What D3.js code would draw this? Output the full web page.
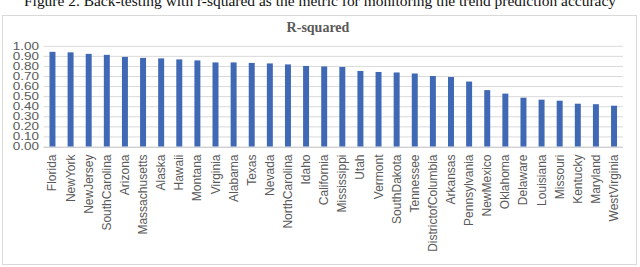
<!DOCTYPE html>
<html>
<head>
<meta charset="utf-8">
<script src="https://cdn.jsdelivr.net/npm/d3@7"></script>
<style>
  html, body { margin: 0; padding: 0; background: #fff; }
  svg { display: block; }
</style>
</head>
<body>
<svg id="chart" width="640" height="267"></svg>
<script>
// Data
const states = ['Florida', 'NewYork', 'NewJersey', 'SouthCarolina', 'Arizona', 'Massachusetts',
  'Alaska', 'Hawaii', 'Montana', 'Virginia', 'Alabama', 'Texas', 'Nevada', 'NorthCarolina',
  'Idaho', 'California', 'Mississippi', 'Utah', 'Vermont', 'SouthDakota', 'Tennessee',
  'DistrictofColumbia', 'Arkansas', 'Pennsylvania', 'NewMexico', 'Oklahoma', 'Delaware',
  'Louisiana', 'Missouri', 'Kentucky', 'Maryland', 'WestVirginia'];
const rSquared = [0.94, 0.935, 0.92, 0.91, 0.89, 0.88, 0.875, 0.865, 0.855, 0.835, 0.835,
  0.83, 0.825, 0.815, 0.80, 0.795, 0.79, 0.75, 0.74, 0.735, 0.725, 0.70, 0.69, 0.645,
  0.56, 0.525, 0.485, 0.465, 0.455, 0.425, 0.42, 0.405];
const yTicks = [0, 0.1, 0.2, 0.3, 0.4, 0.5, 0.6, 0.7, 0.8, 0.9, 1.0];

const caption = 'Figure 2. Back-testing with r-squared as the metric for monitoring the trend prediction accuracy';
const chartTitle = 'R-squared';

const svg = d3.select('#chart');

// Caption (cut off at the top in the original)
svg.append('text')
  .attr('x', 320)
  .attr('y', 6)
  .attr('text-anchor', 'middle')
  .attr('font-family', '"Liberation Serif", "Times New Roman", serif')
  .attr('font-size', 15)
  .attr('fill', '#111')
  .attr('textLength', 592)
  .attr('lengthAdjust', 'spacingAndGlyphs')
  .text(caption);

// Chart frame
svg.append('rect')
  .attr('x', 2.5)
  .attr('y', 15.5)
  .attr('width', 634)
  .attr('height', 249)
  .attr('fill', '#fff')
  .attr('stroke', '#d9d9d9');

svg.append('text')
  .attr('x', 318)
  .attr('y', 32)
  .attr('text-anchor', 'middle')
  .attr('font-family', '"Liberation Serif", "DejaVu Serif", serif')
  .attr('font-weight', 'bold')
  .attr('font-size', 14)
  .attr('fill', '#595959')
  .text(chartTitle);

// Scales
const x = d3.scaleBand()
  .domain(states)
  .range([43.5, 623])
  .paddingInner(0.67)
  .paddingOuter(0.33);

const y = d3.scaleLinear()
  .domain([0, 1])
  .range([146.5, 45.8]);

// Gridlines
const grid = svg.append('g')
  .attr('transform', 'translate(43.5,0)')
  .call(d3.axisLeft(y).tickValues(yTicks).tickSize(-(623 - 43.5)).tickFormat(''));
grid.select('.domain').remove();
grid.selectAll('line').attr('stroke', '#d9d9d9').attr('stroke-width', 1);

// Y tick labels: squat and wide like the reference, so they fit 10px apart
const yAxis = svg.append('g')
  .attr('transform', 'translate(39,0)')
  .call(d3.axisLeft(y).tickValues(yTicks).tickSize(0).tickPadding(0).tickFormat(d3.format('.2f')));
yAxis.select('.domain').remove();
yAxis.selectAll('text')
  .attr('font-family', '"Liberation Sans", Arial, sans-serif')
  .attr('font-size', 10)
  .attr('fill', '#595959')
  .attr('transform', 'scale(1.35,1.05)');

// Bars
svg.append('g')
  .selectAll('rect')
  .data(states)
  .join('rect')
  .attr('x', (d) => x(d))
  .attr('width', x.bandwidth())
  .attr('y', (d, i) => y(rSquared[i]))
  .attr('height', (d, i) => y(0) - y(rSquared[i]))
  .attr('fill', '#4069b5');

// Baseline
svg.append('line')
  .attr('x1', 43.5)
  .attr('x2', 623)
  .attr('y1', Math.round(y(0)) + 0.5)
  .attr('y2', Math.round(y(0)) + 0.5)
  .attr('stroke', '#d0d0d0');

// X labels (rotated)
const xAxis = svg.append('g')
  .attr('transform', `translate(0,${y(0)})`)
  .call(d3.axisBottom(x).tickSize(0).tickPadding(0));
xAxis.select('.domain').remove();
xAxis.selectAll('text')
  .attr('font-family', '"Liberation Sans", Arial, sans-serif')
  .attr('font-size', 12)
  .attr('fill', '#595959')
  .attr('text-anchor', 'end')
  .attr('dy', null)
  .attr('transform', 'translate(4,8) rotate(-90)');
</script>
</body>
</html>
